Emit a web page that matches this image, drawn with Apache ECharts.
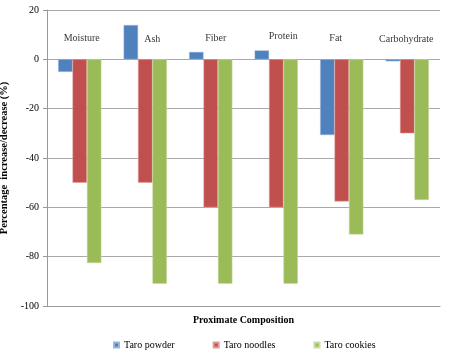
<!DOCTYPE html>
<html><head><meta charset="utf-8">
<script src="https://cdn.jsdelivr.net/npm/echarts@6/dist/echarts.min.js"></script>
<style>html,body{margin:0;padding:0;background:#fff}#c{width:450px;height:354px}</style>
</head><body><div id="c"></div>
<script>
var categories = ['Moisture','Ash','Fiber','Protein','Fat','Carbohydrate'];
var taroPowder = [-5.1, 13.9, 3.0, 3.6, -30.7, -0.8];
var taroNoodles = [-50, -50, -60, -60, -57.6, -30];
var taroCookies = [-82.6, -91, -91, -91, -71, -57];
var labelLevel = [8.5, 8.2, 8.5, 9.2, 8.5, 8.2];
var yTicks = {min: -100, max: 20, interval: 20};

// styling: horizontal nudges of the category text boxes (px)
var labelNudge = [2, 7, 5, 7, -6, -1];

var font = 'Liberation Serif';
var chart = echarts.init(document.getElementById('c'));
chart.setOption({
  animation: false,
  textStyle: {fontFamily: font},
  grid: {left: 47, right: 10, top: 10, bottom: 48, outerBoundsMode: 'none', containLabel: false},
  legend: {
    top: 335, left: 108, itemWidth: 5, itemHeight: 5, itemGap: 38,
    icon: 'rect',
    textStyle: {fontFamily: font, fontSize: 10, color: '#000'},
    data: ['Taro powder','Taro noodles','Taro cookies']
  },
  xAxis: {
    type: 'category', data: categories, position: 'bottom',
    name: 'Proximate Composition', nameLocation: 'middle', nameGap: 9,
    nameTextStyle: {fontFamily: font, fontWeight: 'bold', fontSize: 10, color: '#000', verticalAlign: 'top'},
    axisLine: {onZero: false, lineStyle: {color: '#999'}},
    axisTick: {show: false}, axisLabel: {show: false}
  },
  yAxis: {
    type: 'value', min: yTicks.min, max: yTicks.max, interval: yTicks.interval,
    name: 'Percentage  increase/decrease (%)', nameLocation: 'middle', nameGap: 33,
    nameTextStyle: {fontFamily: font, fontWeight: 'bold', fontSize: 10.5, color: '#000'},
    axisLine: {show: true, lineStyle: {color: '#999'}},
    axisTick: {show: true, length: 4, lineStyle: {color: '#999'}},
    axisLabel: {fontFamily: font, fontSize: 10, color: '#000', margin: 8},
    splitLine: {lineStyle: {color: '#aaa'}}
  },
  series: [
    {name: 'Taro powder', type: 'bar', data: taroPowder, barGap: '0%', barCategoryGap: '34%',
     itemStyle: {color: '#4F81BD', borderColor: '#9ab6dc', borderWidth: 0.5}},
    {name: 'Taro noodles', type: 'bar', data: taroNoodles, barGap: '0%', barCategoryGap: '34%',
     itemStyle: {color: '#C0504D', borderColor: '#dc9a98', borderWidth: 0.5}},
    {name: 'Taro cookies', type: 'bar', data: taroCookies, barGap: '0%', barCategoryGap: '34%',
     itemStyle: {color: '#9BBB59', borderColor: '#c8dca0', borderWidth: 0.5}},
    {name: 'labels', type: 'scatter', symbolSize: 0, silent: true,
     data: labelLevel.map(function(v, i){
       return {value: [categories[i], v], name: categories[i], label: {offset: [labelNudge[i], 0]}};
     }),
     label: {show: true, position: 'inside', formatter: function(p){ return p.name; },
             fontFamily: font, fontSize: 10, color: '#000'}}
  ]
});
</script></body></html>
